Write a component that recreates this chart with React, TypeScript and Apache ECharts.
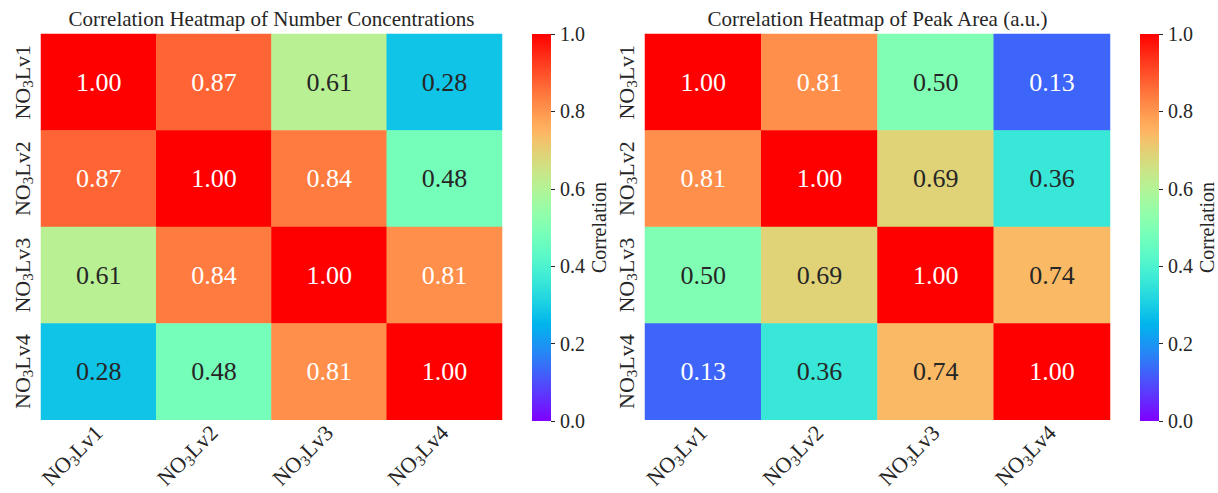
import React, { useEffect, useRef } from "react";
import * as echarts from "echarts";

// ---------- data ----------
const categories = ["NO3Lv1", "NO3Lv2", "NO3Lv3", "NO3Lv4"];
const numberConcentrations = [
  [1.0, 0.87, 0.61, 0.28],
  [0.87, 1.0, 0.84, 0.48],
  [0.61, 0.84, 1.0, 0.81],
  [0.28, 0.48, 0.81, 1.0],
];
const peakArea = [
  [1.0, 0.81, 0.5, 0.13],
  [0.81, 1.0, 0.69, 0.36],
  [0.5, 0.69, 1.0, 0.74],
  [0.13, 0.36, 0.74, 1.0],
];
const titles = [
  "Correlation Heatmap of Number Concentrations",
  "Correlation Heatmap of Peak Area (a.u.)",
];
const colorbarName = "Correlation";
const colorbarMin = 0;
const colorbarMax = 1;
const colorbarInterval = 0.2;

// ---------- colormap (matplotlib "rainbow") ----------
const clamp = (v: number) => Math.max(0, Math.min(1, v));
function rainbow(x: number): [number, number, number] {
  const r = clamp(Math.abs(2 * x - 0.5));
  const g = clamp(Math.sin(Math.PI * x));
  const b = clamp(Math.cos((Math.PI * x) / 2));
  return [r, g, b];
}
const toHex = (c: [number, number, number]) =>
  "#" + c.map((v) => Math.round(v * 255).toString(16).padStart(2, "0")).join("");
const rampStops: string[] = [];
for (let i = 0; i <= 100; i++) rampStops.push(toHex(rainbow(i / 100)));

function luminance(c: [number, number, number]) {
  const lin = c.map((v) => (v <= 0.03928 ? v / 12.92 : Math.pow((v + 0.055) / 1.055, 2.4)));
  return 0.2126 * lin[0] + 0.7152 * lin[1] + 0.0722 * lin[2];
}
const textColorFor = (v: number) => (luminance(rainbow(v)) > 0.42 ? "#262626" : "#ffffff");

const FONT = "'Liberation Serif', 'Times New Roman', serif";
const INK = "#262626";

const richLabel = {
  a: { fontSize: 22, fontFamily: FONT, color: INK },
  s: { fontSize: 15, fontFamily: FONT, color: INK, padding: [11, 0, 0, 0] },
};
const labelFormatter = (v: string) => `{a|${v.slice(0, 2)}}{s|${v.slice(2, 3)}}{a|${v.slice(3)}}`;

function heatData(m: number[][]) {
  const out: any[] = [];
  m.forEach((row, yi) =>
    row.forEach((v, xi) => {
      out.push({ value: [xi, yi, v], label: { color: textColorFor(v) } });
    })
  );
  return out;
}

const grids = [
  { left: 41, top: 34, width: 461, height: 387 },
  { left: 532, top: 34, width: 19, height: 387 },
  { left: 645, top: 34, width: 465, height: 387 },
  { left: 1140, top: 34, width: 19, height: 387 },
];

function buildOption() {
  const xAxis: any[] = [];
  const yAxis: any[] = [];
  const series: any[] = [];
  const gradientStops = rampStops.map((c, i) => ({ offset: i / (rampStops.length - 1), color: c }));

  [0, 1].forEach((k) => {
    const hg = k * 2;
    const cg = k * 2 + 1;
    xAxis[hg] = {
      type: "category",
      gridIndex: hg,
      data: categories,
      position: "bottom",
      axisLine: { show: false },
      axisTick: { show: false },
      splitLine: { show: false },
      axisLabel: { interval: 0, rotate: 45, margin: 9, formatter: labelFormatter, rich: richLabel },
    };
    yAxis[hg] = {
      type: "category",
      gridIndex: hg,
      data: categories,
      inverse: true,
      axisLine: { show: false },
      axisTick: { show: false },
      splitLine: { show: false },
      axisLabel: { interval: 0, rotate: 90, margin: 6, formatter: labelFormatter, rich: richLabel },
    };
    xAxis[cg] = {
      type: "category",
      gridIndex: cg,
      data: ["c"],
      show: false,
    };
    yAxis[cg] = {
      type: "value",
      gridIndex: cg,
      position: "right",
      min: colorbarMin,
      max: colorbarMax,
      interval: colorbarInterval,
      axisLine: { show: false },
      axisTick: { show: true, length: 4, lineStyle: { color: INK } },
      splitLine: { show: false },
      axisLabel: {
        margin: 9,
        fontSize: 20,
        fontFamily: FONT,
        color: INK,
        formatter: (v: number) => v.toFixed(1),
      },
      name: colorbarName,
      nameLocation: "middle",
      nameRotate: 90,
      nameGap: 35,
      nameTextStyle: { fontSize: 20, fontFamily: FONT, color: INK },
    };
    series.push({
      type: "heatmap",
      xAxisIndex: hg,
      yAxisIndex: hg,
      data: heatData(k === 0 ? numberConcentrations : peakArea),
      label: {
        show: true,
        fontSize: 26,
        fontFamily: FONT,
        formatter: (p: any) => p.value[2].toFixed(2),
      },
      emphasis: { disabled: true },
    });
    series.push({
      type: "bar",
      xAxisIndex: cg,
      yAxisIndex: cg,
      data: [colorbarMax],
      barWidth: "100%",
      silent: true,
      itemStyle: {
        color: new echarts.graphic.LinearGradient(0, 1, 0, 0, gradientStops),
      },
    });
  });

  return {
    animation: false,
    backgroundColor: "#ffffff",
    textStyle: { fontFamily: FONT },
    title: titles.map((t, i) => ({
      text: t,
      left: i === 0 ? 271.5 : 877.5,
      top: 8,
      padding: 0,
      textAlign: "center",
      textStyle: { fontSize: 21, fontWeight: "normal", fontFamily: FONT, color: INK },
    })),
    grid: grids,
    xAxis,
    yAxis,
    visualMap: [
      {
        type: "continuous",
        show: false,
        min: colorbarMin,
        max: colorbarMax,
        seriesIndex: [0, 2],
        dimension: 2,
        inRange: { color: rampStops },
      },
    ],
    series,
  };
}

export default function App() {
  const ref = useRef<HTMLDivElement>(null);
  useEffect(() => {
    if (!ref.current) return;
    const chart = echarts.init(ref.current, undefined, { renderer: "svg" });
    chart.setOption(buildOption() as any);
    return () => chart.dispose();
  }, []);
  return (
    <div
      ref={ref}
      style={{ position: "fixed", left: 0, top: 0, width: 1218, height: 493, background: "#fff" }}
    />
  );
}
